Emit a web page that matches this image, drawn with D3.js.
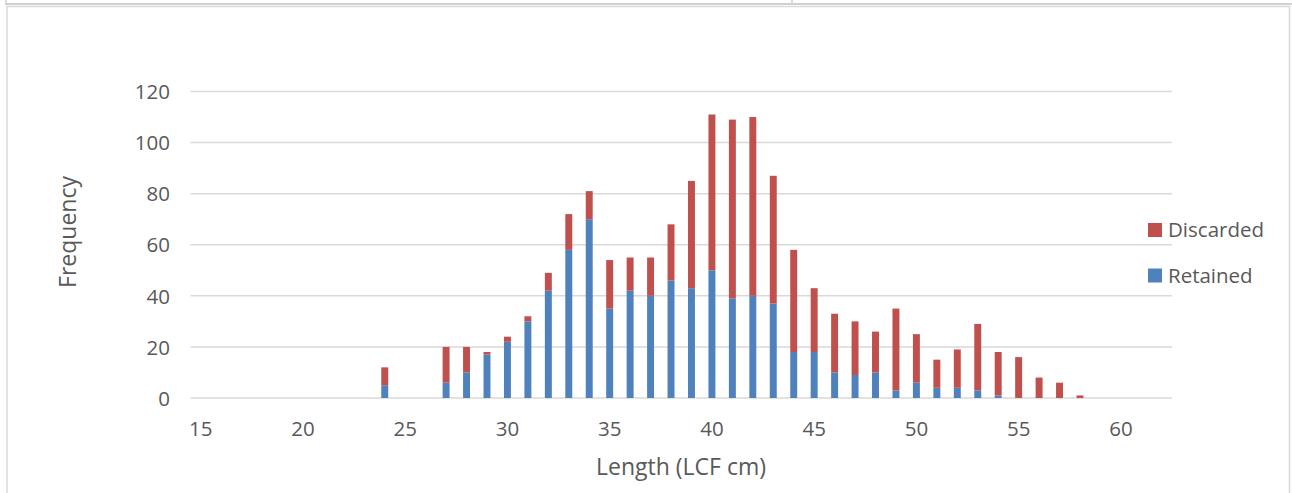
<!DOCTYPE html>
<html>
<head>
<meta charset="utf-8">
<script src="https://cdn.jsdelivr.net/npm/d3@7"></script>
<style>
html,body{margin:0;padding:0;background:#fff;}
svg{display:block;}
text{font-family:"Open Sans",sans-serif;fill:#595959;}
</style>
</head>
<body>
<svg id="chart" width="1292" height="493"></svg>
<script>
// Data
const lengths = d3.range(15, 63); // category axis 15..62
const retained = {24:5,27:6,28:10,29:17,30:22,31:30,32:42,33:58,34:70,35:35,36:42,37:40,38:46,39:43,40:50,41:39,42:40,43:37,44:18,45:18,46:10,47:9,48:10,49:3,50:6,51:4,52:4,53:3,54:1};
const discarded = {24:7,27:14,28:10,29:1,30:2,31:2,32:7,33:14,34:11,35:19,36:13,37:15,38:22,39:42,40:61,41:70,42:70,43:50,44:40,45:25,46:23,47:21,48:16,49:32,50:19,51:11,52:15,53:26,54:17,55:16,56:8,57:6,58:1};
const xTickLabels = [15,20,25,30,35,40,45,50,55,60];
const yTicks = [0,20,40,60,80,100,120];
const seriesNames = ["Retained","Discarded"];
const colors = {Retained:"#4F81BD", Discarded:"#C0504D"};

const rows = lengths.map(l => ({len:l, Retained: retained[l]||0, Discarded: discarded[l]||0}));

const svg = d3.select("#chart");

// frame
svg.append("line").attr("x1",5).attr("x2",1292).attr("y1",4).attr("y2",4).attr("stroke","#d0d0d0").attr("stroke-width",2);
svg.append("line").attr("x1",6).attr("x2",6).attr("y1",0).attr("y2",4).attr("stroke","#d0d0d0").attr("stroke-width",1.5);
svg.append("line").attr("x1",792).attr("x2",792).attr("y1",0).attr("y2",4).attr("stroke","#d0d0d0").attr("stroke-width",1.5);
svg.append("rect").attr("x",7).attr("y",6.5).attr("width",1282.5).attr("height",500)
  .attr("fill","none").attr("stroke","#d9d9d9").attr("stroke-width",1.5);

const x = d3.scaleBand().domain(lengths).range([190.5, 1172]).paddingInner(0.66).paddingOuter(0.33);
const y = d3.scaleLinear().domain([0,120]).range([398, 91.5]);

// gridlines
svg.append("g").selectAll("line").data(yTicks).join("line")
  .attr("x1",190.5).attr("x2",1172).attr("y1",d=>y(d)).attr("y2",d=>y(d))
  .attr("stroke","#d9d9d9").attr("stroke-width",1.5);

// y axis labels
const yAxis = d3.axisLeft(y).tickValues(yTicks).tickSize(0).tickPadding(0);
const gy = svg.append("g").attr("transform","translate(170,0)").call(yAxis);
gy.select(".domain").remove();
gy.selectAll("text").attr("font-size","20.5px").attr("font-family","Open Sans").attr("fill","#595959").attr("dy","0.35em");

// x axis labels
const xAxis = d3.axisBottom(x).tickValues(xTickLabels).tickSize(0).tickPadding(0);
const gx = svg.append("g").attr("transform","translate(0,421)").call(xAxis);
gx.select(".domain").remove();
gx.selectAll("text").attr("font-size","20.5px").attr("font-family","Open Sans").attr("fill","#595959").attr("dy","0.71em");

// stacked bars
const stack = d3.stack().keys(seriesNames)(rows);
svg.append("g").selectAll("g").data(stack).join("g")
  .attr("fill", d => colors[d.key])
  .selectAll("rect").data(d => d.filter(s => s[1] > s[0])).join("rect")
  .attr("x", d => x(d.data.len))
  .attr("width", x.bandwidth())
  .attr("y", d => y(d[1]))
  .attr("height", d => y(d[0]) - y(d[1]));

// axis titles
svg.append("text").attr("x",681).attr("y",475).attr("text-anchor","middle")
  .attr("font-size","23px").text("Length (LCF cm)");
svg.append("text").attr("transform","translate(76,232) rotate(-90)").attr("text-anchor","middle")
  .attr("font-size","23px").text("Frequency");

// legend
const legendItems = ["Discarded","Retained"];
const lg = svg.append("g").selectAll("g").data(legendItems).join("g")
  .attr("transform",(d,i)=>`translate(1148,${223 + i*45.5})`);
lg.append("rect").attr("width",14).attr("height",14).attr("fill",d=>colors[d]);
lg.append("text").attr("x",20).attr("y",7).attr("dy","0.35em").attr("font-size","20.5px").text(d=>d);
</script>
</body>
</html>
